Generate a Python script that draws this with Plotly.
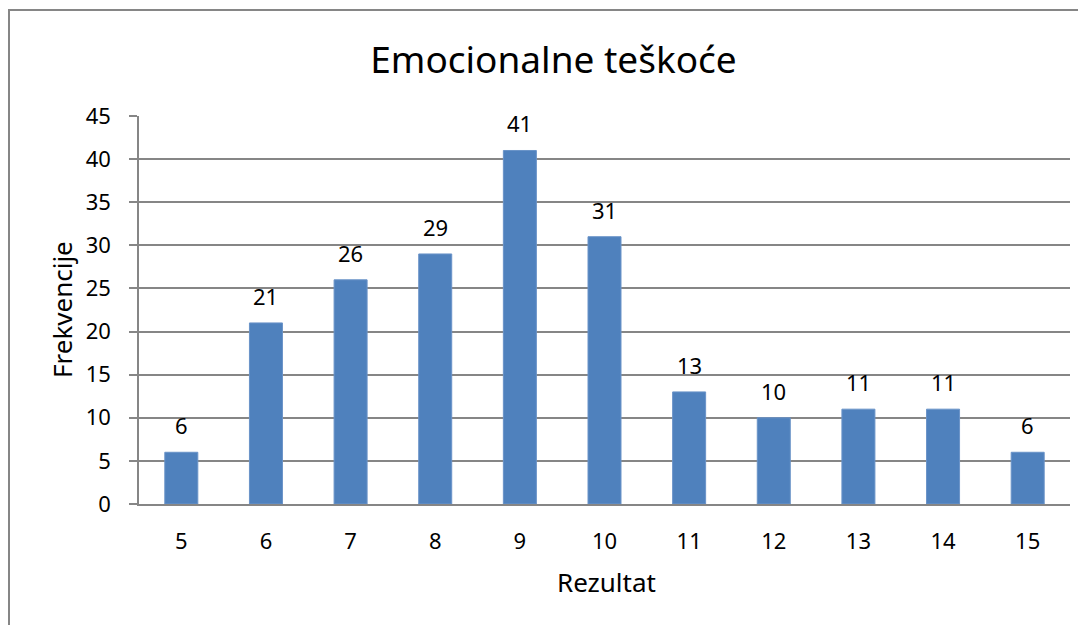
import plotly.graph_objects as go

categories = ["5", "6", "7", "8", "9", "10", "11", "12", "13", "14", "15"]
values = [6, 21, 26, 29, 41, 31, 13, 10, 11, 11, 6]
y_ticks = [0, 5, 10, 15, 20, 25, 30, 35, 40, 45]

OFF = 8  # page body margin
W, H = 1086, 625
L = 139 - OFF
T = 116 - OFF
R = W - (1070 - OFF)
B = H - (504 - OFF)
pw, ph = W - L - R, H - T - B
font = "Noto Sans"
tick_size = 22

fig = go.Figure(go.Bar(
    x=categories, y=values,
    marker=dict(color="#4F81BD", line=dict(color="#6A93C8", width=1)),
))

annotations = [
    dict(x=i, y=v, xref="x", yref="y", text=str(v), showarrow=False,
         yanchor="bottom", xanchor="center", yshift=10,
         font=dict(family=font, size=tick_size, color="#000000"))
    for i, v in enumerate(values)
]
annotations += [
    dict(text="Rezultat", xref="paper", yref="paper", x=(606 - 139) / pw,
         y=(504 - 582) / ph, xanchor="center", yanchor="middle",
         showarrow=False, font=dict(family=font, size=26, color="#000000")),
    dict(text="Frekvencije", xref="paper", yref="paper", x=(62 - 139) / pw,
         y=(504 - 310) / ph, xanchor="center", yanchor="middle", textangle=-90,
         showarrow=False, font=dict(family=font, size=26, color="#000000")),
]

fig.update_layout(
    width=W, height=H,
    margin=dict(l=L, r=R, t=T, b=B, autoexpand=False),
    paper_bgcolor="white", plot_bgcolor="white",
    bargap=0.61,
    showlegend=False,
    title=dict(text="Emocionalne teškoće", x=(553.5 - OFF) / W, xanchor="center",
               y=1 - (60 - OFF) / H, yanchor="middle", yref="container",
               font=dict(family=font, size=37, color="#000000")),
    font=dict(family=font, color="#000000"),
    xaxis=dict(type="category", range=[-0.5, len(categories) - 0.5],
               showgrid=False, showline=True, linecolor="#868686",
               linewidth=1.5, ticks="", tickfont=dict(size=tick_size, family=font),
               ticklabelstandoff=17),
    yaxis=dict(range=[0, 45], tickvals=y_ticks, showgrid=True, gridcolor="#868686",
               gridwidth=1.5, showline=True, linecolor="#868686", linewidth=1.5,
               ticks="outside", ticklen=8, tickcolor="#868686", tickwidth=1.5,
               tickfont=dict(size=tick_size, family=font), ticklabelstandoff=14,
               zeroline=False),
    annotations=annotations,
    shapes=[dict(type="rect", xref="paper", yref="paper",
                 x0=(1 - L) / pw, x1=1.1, y0=-0.5, y1=1 + (T - 2) / ph,
                 line=dict(color="#868686", width=2), layer="below")],
)

fig.write_html("out.html")
